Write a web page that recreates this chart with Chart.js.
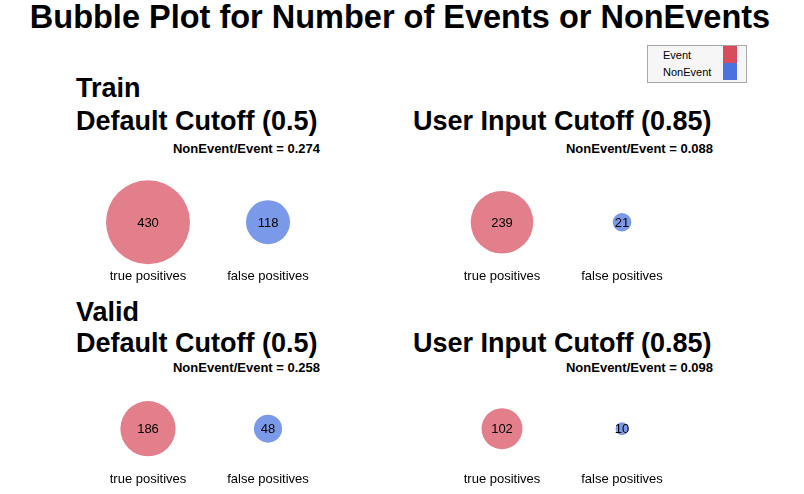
<!DOCTYPE html>
<html>
<head>
<meta charset="utf-8">
<script src="https://cdn.jsdelivr.net/npm/chart.js@4"></script>
<style>
  body { margin: 0; width: 804px; height: 494px; background: #fff; position: relative; overflow: hidden;
         font-family: "Liberation Sans", Arial, sans-serif; color: #000; }
  .t { position: absolute; white-space: nowrap; line-height: 1; font-weight: bold; }
  .big { font-size: 27px; }
  .sub { font-size: 13px; }
  canvas { position: absolute; }
  #legend { position: absolute; left: 647px; top: 45px; width: 98px; height: 36px; border: 1px solid #a8a8a8; background: #f6f6f6; }
  #legend span { position: absolute; font-size: 11px; line-height: 1; }
  #legend i { position: absolute; left: 75px; width: 14px; }
</style>
</head>
<body>

<div class="t" style="left:0;top:1px;width:800px;text-align:center;font-size:32.5px;">Bubble Plot for Number of Events or NonEvents</div>

<div id="legend">
  <span style="left:15px;top:4px;">Event</span><i style="top:0;height:17px;background:#d94c5c;"></i>
  <span style="left:15px;top:21px;">NonEvent</span><i style="top:17px;height:17px;background:#4a73df;"></i>
</div>

<div class="t big" style="left:76px;top:75px;">Train</div>
<div class="t big" style="left:76px;top:108px;" id="title0"></div>
<div class="t big" style="left:413px;top:108px;" id="title1"></div>
<div class="t sub" style="right:484px;top:142px;" id="ratio0"></div>
<div class="t sub" style="right:91px;top:142px;" id="ratio1"></div>

<div class="t big" style="left:76px;top:299px;">Valid</div>
<div class="t big" style="left:76px;top:330px;" id="title2"></div>
<div class="t big" style="left:413px;top:330px;" id="title3"></div>
<div class="t sub" style="right:484px;top:361px;" id="ratio2"></div>
<div class="t sub" style="right:91px;top:361px;" id="ratio3"></div>

<canvas id="p0" width="240" height="127" style="left:88px;top:160px;"></canvas>
<canvas id="p1" width="240" height="127" style="left:442px;top:160px;"></canvas>
<canvas id="p2" width="240" height="120" style="left:88px;top:370px;"></canvas>
<canvas id="p3" width="240" height="120" style="left:442px;top:370px;"></canvas>

<script>
// data
const categories = ["true positives", "false positives"];
const panelTitles = ["Default Cutoff (0.5)", "User Input Cutoff (0.85)", "Default Cutoff (0.5)", "User Input Cutoff (0.85)"];
const trainDefault = [430, 118];
const trainUser = [239, 21];
const validDefault = [186, 48];
const validUser = [102, 10];

const eventFill = "rgba(214,72,88,0.7)";
const nonEventFill = "rgba(65,110,222,0.7)";
const bubbleScale = 42 / Math.sqrt(430);   // biggest bubble ~42px radius, area ~ count
const fontFamily = '"Liberation Sans", Arial, sans-serif';

// numbers inside the bubbles
const valueLabels = {
    id: "valueLabels",
    afterDatasetsDraw(chart) {
        let ctx = chart.ctx;
        let ds = chart.data.datasets[0];
        ctx.save();
        ctx.font = "13px " + fontFamily;
        ctx.fillStyle = "#000";
        ctx.textAlign = "center";
        ctx.textBaseline = "middle";
        chart.getDatasetMeta(0).data.forEach((el, i) => {
            ctx.fillText(ds.data[i].v, el.x, el.y + 1);
        });
        ctx.restore();
    }
};

function makePanel(n, counts) {
    document.getElementById("title" + n).innerText = panelTitles[n];
    document.getElementById("ratio" + n).innerText = "NonEvent/Event = " + (counts[1] / counts[0]).toFixed(3);

    new Chart(document.getElementById("p" + n), {
        type: "bubble",
        data: {
            labels: categories,
            datasets: [{
                data: counts.map((v, i) => ({x: i, y: 0, r: Math.sqrt(v) * bubbleScale, v: v})),
                backgroundColor: [eventFill, nonEventFill],
                borderWidth: 0,
                hoverBorderWidth: 0,
                clip: false
            }]
        },
        options: {
            responsive: false,
            animation: false,
            events: [],
            layout: {autoPadding: false, padding: {top: 19}},
            plugins: {legend: {display: false}, tooltip: {enabled: false}},
            scales: {
                x: {
                    type: "category",
                    labels: categories,
                    offset: true,
                    grid: {display: false, drawTicks: false},
                    border: {display: false},
                    ticks: {color: "#000", padding: 3, maxRotation: 0, font: {family: fontFamily, size: 13}}
                },
                y: {display: false, min: -1, max: 1}
            }
        },
        plugins: [valueLabels]
    });
}

makePanel(0, trainDefault);
makePanel(1, trainUser);
makePanel(2, validDefault);
makePanel(3, validUser);
</script>
</body>
</html>
